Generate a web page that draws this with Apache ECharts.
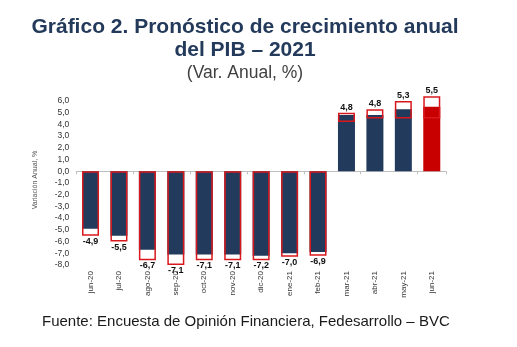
<!DOCTYPE html>
<html><head><meta charset="utf-8">
<script src="https://cdn.jsdelivr.net/npm/echarts@6/dist/echarts.min.js"></script>
<style>html,body{margin:0;padding:0;background:#fff}#c{width:517px;height:347px}</style>
</head><body><div id="c"></div>
<script>
var categories = ['jun-20','jul-20','ago-20','sep-20','oct-20','nov-20','dic-20','ene-21','feb-21','mar-21','abr-21','may-21','jun-21'];
var forecast = [-4.9,-5.5,-6.7,-7.1,-7.1,-7.1,-7.2,-7.0,-6.9,4.8,4.8,5.3,5.5];
var boxLow = [0,0,0,0,0,0,0,0,0,4.2,4.5,4.5,4.5];
var boxHigh = [-5.5,-6.0,-7.6,-8.0,-7.6,-7.6,-7.6,-7.3,-7.2,5.0,5.3,6.0,6.4];
var yTicks = [-8,-7,-6,-5,-4,-3,-2,-1,0,1,2,3,4,5,6];

var NAVY = '#223b5c', RED = '#d9181d', FILLRED = '#c80000';
function fmt(v){ return v.toFixed(1).replace('.', ','); }

var mainData = forecast.map(function(v,i){
  return i === forecast.length-1 ? {value:v, itemStyle:{color:FILLRED}} : v;
});
var baseData = boxLow.slice();
var boxData = boxHigh.map(function(h,i){
  var neg = h < 0;
  return {
    value: +(h - boxLow[i]).toFixed(2),
    label: {show:true, position: neg ? 'bottom' : 'top', distance: 1,
      formatter: function(){ return fmt(forecast[i]); }}
  };
});

var chart = echarts.init(document.getElementById('c'), null, {renderer:'canvas'});
chart.setOption({
  animation:false,
  backgroundColor:'#fff',
  title:[
    {text:'Gráfico 2. Pronóstico de crecimiento anual\ndel PIB – 2021', left:240, top:11, textAlign:'center',
     textStyle:{fontFamily:'Liberation Sans, Arial', fontSize:21, fontWeight:'bold', color:'#233a5b', lineHeight:23}},
    {text:'(Var. Anual, %)', left:240, top:59, textAlign:'center',
     textStyle:{fontFamily:'Liberation Sans, Arial', fontSize:17.5, fontWeight:'normal', color:'#404040'}},
    {text:'Fuente: Encuesta de Opinión Financiera, Fedesarrollo – BVC', left:37, top:309,
     textStyle:{fontFamily:'Liberation Sans, Arial', fontSize:15, fontWeight:'normal', color:'#1a1a1a'}}
  ],
  grid:{left:76.3, right:71, top:95.1, bottom:82, containLabel:false},
  xAxis:[
    {type:'category', data:categories, position:'bottom',
     axisLine:{show:false, onZero:false}, axisTick:{show:false},
     axisLabel:{rotate:90, margin:6, fontSize:8, color:'#333', fontFamily:'Liberation Sans, Arial'}},
    {type:'category', data:categories, position:'bottom',
     axisLine:{show:true, onZero:true, lineStyle:{color:'#bfbfbf', width:1}},
     axisTick:{show:true, length:3, lineStyle:{color:'#bfbfbf'}}, axisLabel:{show:false}}
  ],
  yAxis:{type:'value', min:-8, max:6.5, interval:1,
    name:'Variación Anual, %', nameLocation:'middle', nameGap:38, nameRotate:90,
    nameTextStyle:{fontSize:7, color:'#555', fontFamily:'Liberation Sans, Arial'},
    axisLine:{show:false}, axisTick:{show:false}, splitLine:{show:false},
    axisLabel:{showMaxLabel:false, margin:7, fontSize:8.5, color:'#333', fontFamily:'Liberation Sans, Arial',
      formatter:function(v){ return yTicks.indexOf(v) >= 0 ? fmt(v) : ''; }}
  },
  series:[
    {name:'Pronóstico', type:'bar', data:mainData, barWidth:17, barGap:'-100%',
     itemStyle:{color:NAVY}, z:2},
    {name:'base', type:'bar', stack:'box', data:baseData, barWidth:17,
     itemStyle:{color:'transparent'}, silent:true, z:3},
    {name:'Rango', type:'bar', stack:'box', data:boxData, barWidth:17,
     itemStyle:{color:'rgba(0,0,0,0)', borderColor:RED, borderWidth:1.5}, z:4,
     label:{fontSize:9, fontWeight:'bold', color:'#111', fontFamily:'Liberation Sans, Arial'}}
  ]
});
</script></body></html>
